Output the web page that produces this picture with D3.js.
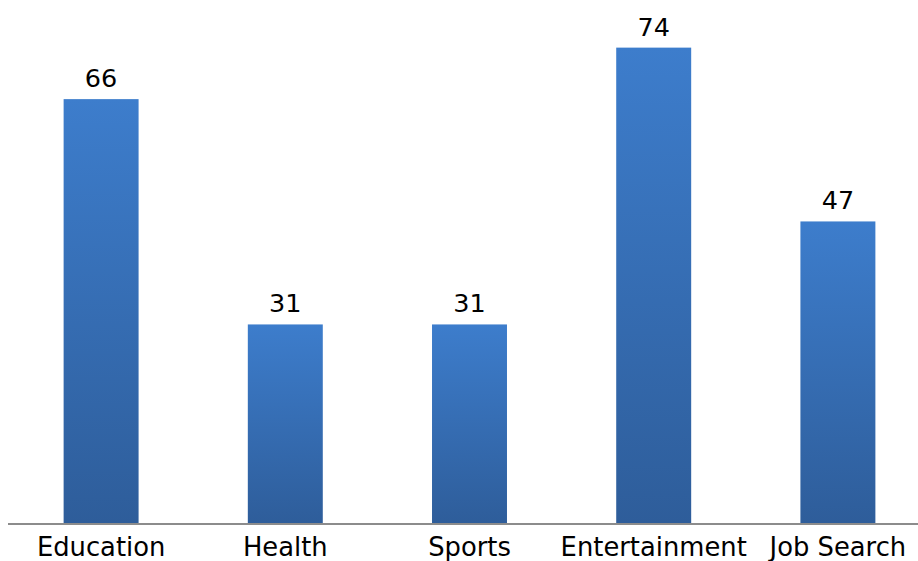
<!DOCTYPE html>
<html><head><meta charset="utf-8">
<script src="https://cdn.jsdelivr.net/npm/d3@7"></script>
<style>body{margin:0;background:#fff}svg{display:block}</style>
</head><body>
<svg id="c" width="918" height="561"></svg>
<script>
const categories = ["Education","Health","Sports","Entertainment","Job Search"];
const values = [66,31,31,74,47];

const svg = d3.select("#c");
const x = d3.scaleBand().domain(categories).range([9, 930]).paddingInner(0.593).paddingOuter(0.2965);
const y = d3.scaleLinear().domain([0, 80]).range([524, 9]);

const defs = svg.append("defs");
const g = defs.append("linearGradient").attr("id","grad").attr("x1",0).attr("y1",0).attr("x2",0).attr("y2",1);
g.append("stop").attr("offset","0%").attr("stop-color","#3d7dcc");
g.append("stop").attr("offset","100%").attr("stop-color","#2e5d9a");

svg.selectAll("rect.bar").data(categories).join("rect")
  .attr("class","bar")
  .attr("x", d => x(d))
  .attr("width", x.bandwidth())
  .attr("y", (d,i) => y(values[i]))
  .attr("height", (d,i) => y(0) - y(values[i]))
  .attr("fill","url(#grad)");

svg.selectAll("text.val").data(categories).join("text")
  .attr("class","val")
  .attr("x", d => x(d) + x.bandwidth()/2)
  .attr("y", (d,i) => y(values[i]) - 12)
  .attr("text-anchor","middle")
  .attr("font-family","DejaVu Sans")
  .attr("font-size", 25.5)
  .attr("fill","#000")
  .text((d,i) => values[i]);

const axis = d3.axisBottom(x).tickSize(0).tickPadding(0);
const ax = svg.append("g").attr("transform", `translate(0,${y(0)})`).call(axis);
ax.select(".domain").attr("d", `M8,0H918`).attr("stroke","#8c8c8c").attr("stroke-width",2);
ax.selectAll(".tick text").attr("font-family","DejaVu Sans").attr("font-size",25.8).attr("fill","#000").attr("dy",0).attr("y",32);
</script>
</body></html>
